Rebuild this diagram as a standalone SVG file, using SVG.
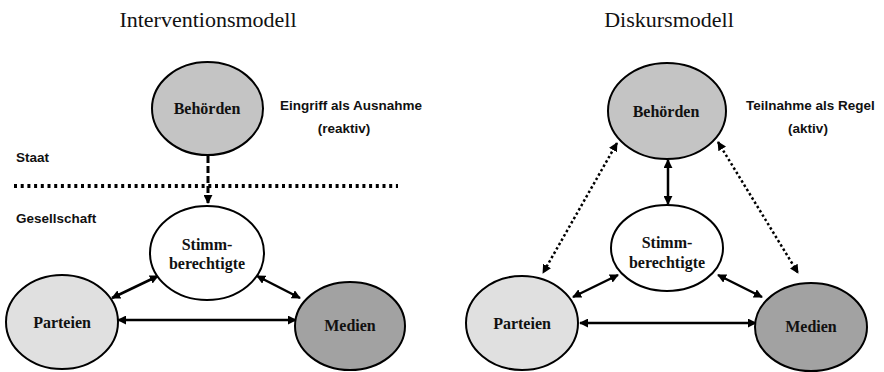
<svg xmlns="http://www.w3.org/2000/svg" width="884" height="372" viewBox="0 0 884 372">
<style>
.title{font-family:"Liberation Serif","Times New Roman",serif;font-size:22px;fill:#111;text-anchor:middle}
.node{stroke:#000;stroke-width:2}
.lbl{font-family:"Liberation Serif","Times New Roman",serif;font-weight:bold;font-size:16px;fill:#111;text-anchor:middle}
.side{font-family:"Liberation Sans",Arial,sans-serif;font-weight:bold;font-size:13.5px;fill:#111}
.mid{text-anchor:middle}
.solid{stroke:#000;stroke-width:2.5;fill:none;marker-start:url(#ah);marker-end:url(#ah)}
.dots{stroke:#000;stroke-width:2.5;fill:none;stroke-dasharray:2.5 2.5;marker-start:url(#ah);marker-end:url(#ah)}
.behoerden{fill:#c4c4c4}
.parteien{fill:#e0e0e0}
.medien{fill:#a2a2a2}
.stimm{fill:#fff}
</style>
<defs>
<marker id="ah" viewBox="0 0 10 10" refX="9" refY="5" markerWidth="9" markerHeight="9" markerUnits="userSpaceOnUse" orient="auto-start-reverse">
<path d="M0,0 L10,5 L0,10 Z" fill="#000"/>
</marker>
</defs>
<rect width="884" height="372" fill="#fff"/>

<!-- Left: Interventionsmodell -->
<text class="title" x="208" y="27">Interventionsmodell</text>
<text class="side" x="16" y="162">Staat</text>
<text class="side" x="16" y="223">Gesellschaft</text>
<text class="side" x="280" y="110">Eingriff als Ausnahme</text>
<text class="side mid" x="344" y="133">(reaktiv)</text>
<line x1="14" y1="186" x2="398" y2="186" stroke="#000" stroke-width="4" stroke-dasharray="3 3.7"/>

<g id="connectors-left">
<line x1="208" y1="156" x2="208" y2="203" stroke="#000" stroke-width="3" stroke-dasharray="7 3" marker-end="url(#ah)"/>
<line class="solid" x1="112" y1="298" x2="158" y2="276"/>
<line class="solid" x1="257" y1="276" x2="300" y2="298"/>
<line class="solid" x1="118" y1="320" x2="296" y2="320"/>
</g>

<g id="l-behoerden"><ellipse class="node behoerden" cx="207.5" cy="108.5" rx="55.5" ry="46.5"/><text class="lbl" x="207" y="114">Behörden</text></g>
<g id="l-stimm"><ellipse class="node stimm" cx="207" cy="253" rx="57" ry="47"/><text class="lbl" x="207" y="250">Stimm-</text><text class="lbl" x="207" y="269">berechtigte</text></g>
<g id="l-parteien"><ellipse class="node parteien" cx="62" cy="322" rx="56" ry="47"/><text class="lbl" x="62" y="328">Parteien</text></g>
<g id="l-medien"><ellipse class="node medien" cx="350" cy="326" rx="55" ry="44"/><text class="lbl" x="350" y="331">Medien</text></g>

<!-- Right: Diskursmodell -->
<text class="title" x="669" y="27">Diskursmodell</text>
<text class="side" x="746" y="110">Teilnahme als Regel</text>
<text class="side mid" x="808" y="133">(aktiv)</text>

<g id="connectors-right">
<line class="solid" x1="668" y1="160" x2="668" y2="204"/>
<line class="dots" x1="617" y1="143" x2="543" y2="273"/>
<line class="dots" x1="718" y1="142" x2="798" y2="273"/>
<line class="solid" x1="573" y1="297" x2="618" y2="275"/>
<line class="solid" x1="718" y1="275" x2="762" y2="297"/>
<line class="solid" x1="580" y1="323" x2="756" y2="323"/>
</g>

<g id="r-behoerden"><ellipse class="node behoerden" cx="667" cy="111" rx="59" ry="48"/><text class="lbl" x="666" y="117">Behörden</text></g>
<g id="r-stimm"><ellipse class="node stimm" cx="667" cy="248" rx="56" ry="43"/><text class="lbl" x="667" y="248">Stimm-</text><text class="lbl" x="667" y="268">berechtigte</text></g>
<g id="r-parteien"><ellipse class="node parteien" cx="522" cy="323" rx="56" ry="47"/><text class="lbl" x="522" y="329">Parteien</text></g>
<g id="r-medien"><ellipse class="node medien" cx="811" cy="327" rx="56" ry="44"/><text class="lbl" x="811" y="332">Medien</text></g>
</svg>
